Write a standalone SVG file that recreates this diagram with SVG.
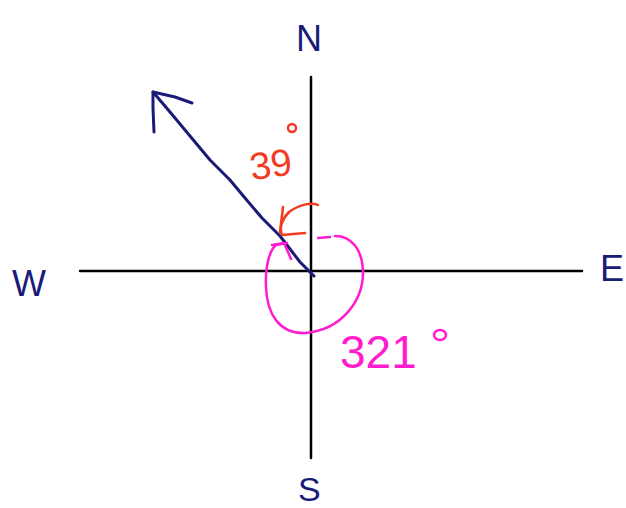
<svg xmlns="http://www.w3.org/2000/svg" width="626" height="508" viewBox="0 0 626 508">
<style>
.ax{stroke:#000;stroke-width:2.5;fill:none;stroke-linecap:round}
.nv{stroke:#1a1a78;stroke-width:3;fill:none;stroke-linecap:round;stroke-linejoin:round}
.rd{stroke:#f23c22;stroke-width:2.5;fill:none;stroke-linecap:round;stroke-linejoin:round}
.mg{stroke:#ff1ccf;stroke-width:2.5;fill:none;stroke-linecap:round;stroke-linejoin:round}
.lbl{font-family:"Liberation Sans",Arial,sans-serif;fill:#1a1a78}
.rt{font-family:"Liberation Sans",Arial,sans-serif;fill:#f23c22}
.mt{font-family:"Liberation Sans",Arial,sans-serif;fill:#ff1ccf}
</style>
<rect width="626" height="508" fill="#fff"/>
<g id="axes">
<line class="ax" x1="311" y1="77" x2="311" y2="458"/>
<line class="ax" x1="80" y1="271" x2="582" y2="271"/>
</g>
<g id="labels">
<text class="lbl" x="296" y="51" font-size="36">N</text>
<text class="lbl" x="12" y="296" font-size="36">W</text>
<text class="lbl" x="600" y="281" font-size="36">E</text>
<text class="lbl" x="298" y="501" font-size="34">S</text>
</g>
<g id="connectors">
<g id="bearing-arrow">
<path class="nv" d="M314,276 L300,262 L290,249 L280,236 L262,218 L245,198 L230,180 L210,160 L190,136 L170,112 L153,92"/>
<path class="nv" d="M154,132 L153,108 L153,92 L175,97 L192,103"/>
</g>
<g id="angle-39">
<path class="rd" d="M318,205 C312,202 300,204 289,212 C282,219 279,228 282,235 L305,233"/>
<path class="rd" d="M283,207 L280,232"/>
</g>
<g id="angle-321">
<path class="mg" d="M318,238 L330,237"/>
<path class="mg" d="M335,236 C352,236 362,250 363,270 C364,300 342,330 305,333 C280,334 267,315 266,287 C265,265 270,250 276,245 L287,243"/>
<path class="mg" d="M272,245 L284,243 L291,259"/>
</g>
</g>
<g id="angle-labels">
<text class="rt" x="249" y="178" font-size="38" transform="rotate(-8 266 160)">39</text>
<circle cx="292" cy="128" r="4" fill="none" stroke="#f23c22" stroke-width="2.5"/>
<text class="mt" x="340" y="368" font-size="46">321</text>
<ellipse cx="440" cy="335" rx="6" ry="5" fill="none" stroke="#ff1ccf" stroke-width="2.5"/>
</g>
</svg>
